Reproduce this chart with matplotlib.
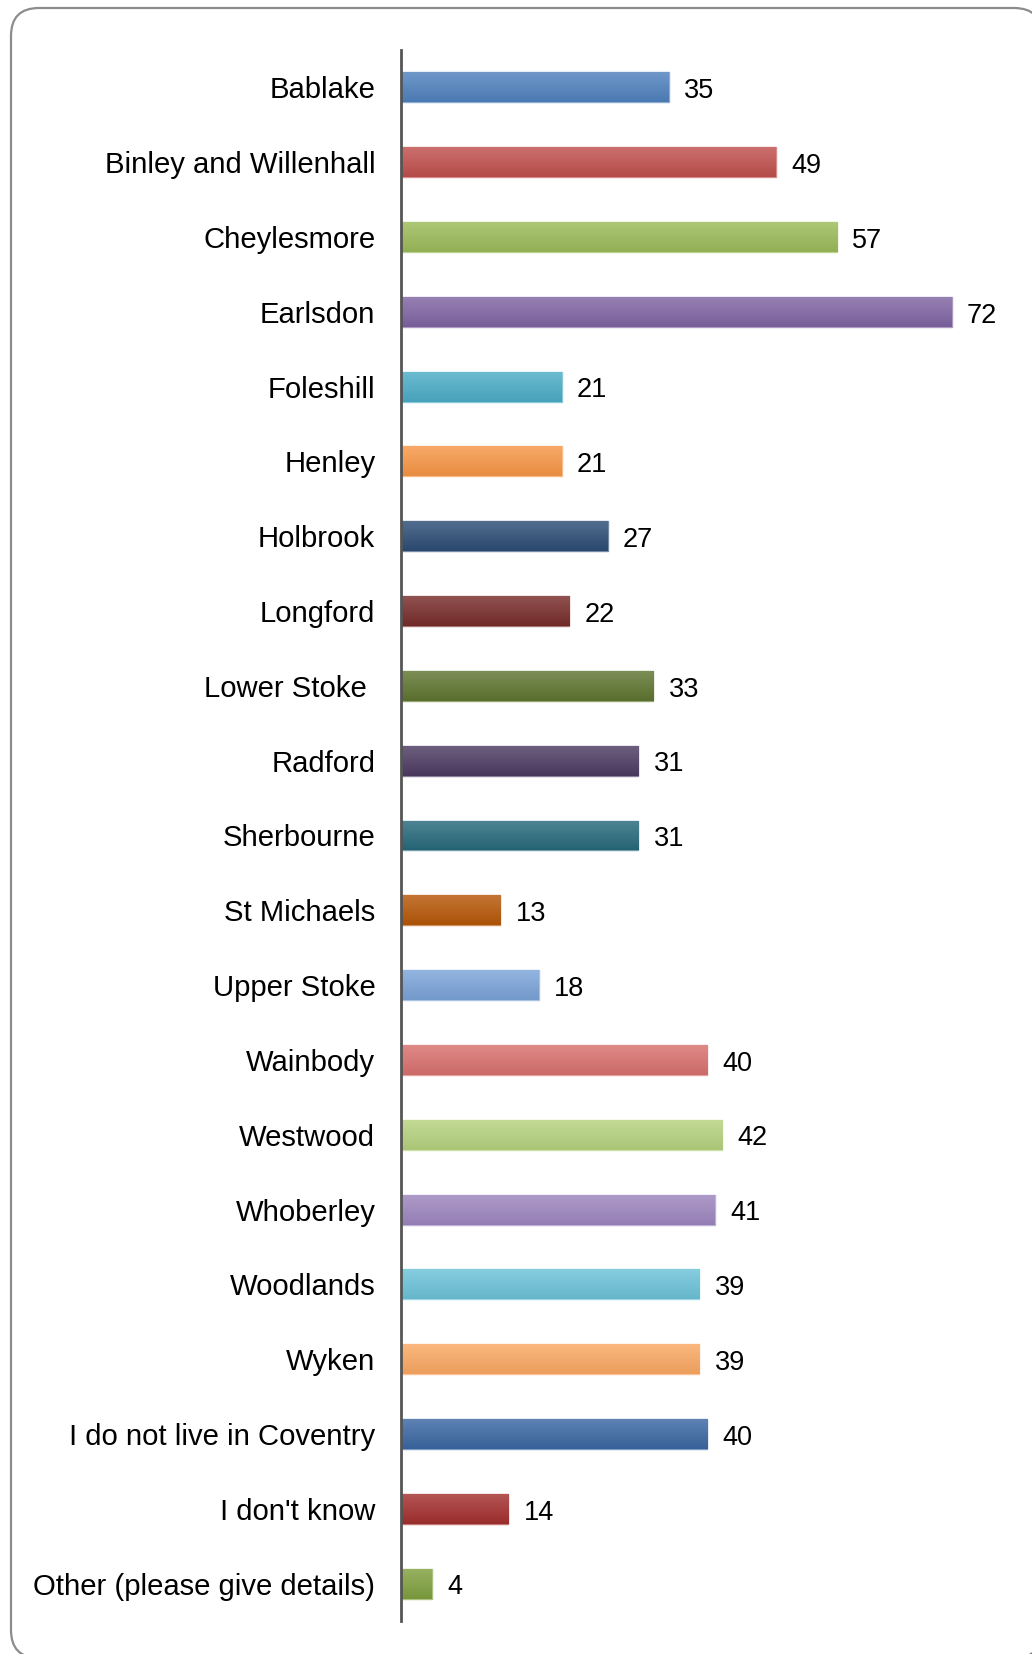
import numpy as np
import matplotlib.pyplot as plt
from matplotlib.colors import to_rgb
from matplotlib.patches import FancyBboxPatch
from matplotlib.transforms import IdentityTransform

plt.rcParams['font.family'] = ['Liberation Sans', 'DejaVu Sans']

# -------------------------
# Data
# -------------------------
wards = ["Bablake", "Binley and Willenhall", "Cheylesmore", "Earlsdon",
         "Foleshill", "Henley", "Holbrook", "Longford", "Lower Stoke ",
         "Radford", "Sherbourne", "St Michaels", "Upper Stoke", "Wainbody",
         "Westwood", "Whoberley", "Woodlands", "Wyken",
         "I do not live in Coventry", "I don't know", "Other (please give details)"]
counts = [35, 49, 57, 72, 21, 21, 27, 22, 33, 31, 31, 13, 18, 40, 42, 41, 39, 39, 40, 14, 4]
colors = ["#4F81BD", "#C0504D", "#9BBB59", "#8064A2", "#4BACC6", "#F79646",
          "#2C4D75", "#772C2A", "#5F7530", "#4D3B62", "#276A7C", "#B65708",
          "#7AA3D8", "#D8706E", "#B5D27E", "#9D85BE", "#6CC2D8", "#FAA862",
          "#3A67A2", "#A3302E", "#7FA03F"]


def mix(c, other, t):
    c = np.array(to_rgb(c))
    return tuple(c * (1 - t) + np.array(other) * t)


W, H = 1032, 1654
fig = plt.figure(figsize=(W / 100, H / 100), dpi=100)

# rounded outer frame, kept behind the axes
frame = FancyBboxPatch((11 + 28, -4 + 28), W + 10 - 11 - 56, 1646 + 4 - 56,
                       boxstyle="round,pad=28", transform=IdentityTransform(),
                       facecolor="white", edgecolor="#8c8c8c", linewidth=1.6,
                       zorder=-10)
fig.patches.append(frame)

ax = fig.add_axes([401 / W, 1 - 1621 / H, 612 / W, (1621 - 50) / H])
ax.set_facecolor("none")
ax.set_zorder(5)

y = np.arange(len(wards))
h = 0.4
bars = ax.barh(y, counts, height=h, color=colors, linewidth=1.0, zorder=2)

# vertical gradient on every bar (light on top, darker at bottom)
for b, c, v, yi in zip(bars, colors, counts, y):
    b.set_edgecolor(mix(c, (1, 1, 1), 0.35))
    top = mix(c, (1, 1, 1), 0.18)
    bot = mix(c, (0, 0, 0), 0.06)
    grad = np.linspace(0, 1, 50)[:, None, None]
    img = np.array(top)[None, None, :] * (1 - grad) + np.array(bot)[None, None, :] * grad
    im = ax.imshow(img, extent=(0, v, yi + h / 2, yi - h / 2), origin="upper",
                   aspect="auto", zorder=2.5, interpolation="bilinear")
    im.set_clip_path(b)
    ax.text(v + 2.0, yi + 0.05, str(v), va="center", ha="left", fontsize=19.5, color="black")

ax.set_xlim(0, 80)
ax.set_ylim(len(wards) - 0.5, -0.5)
ax.set_yticks(y)
ax.set_yticklabels(wards, fontsize=21.1)
ax.tick_params(axis="y", length=0, pad=18.5)
ax.set_xticks([])

for s in ["top", "right", "bottom"]:
    ax.spines[s].set_visible(False)
ax.spines["left"].set_color("#555555")
ax.spines["left"].set_linewidth(2)

fig.savefig("out.png", dpi=100)
